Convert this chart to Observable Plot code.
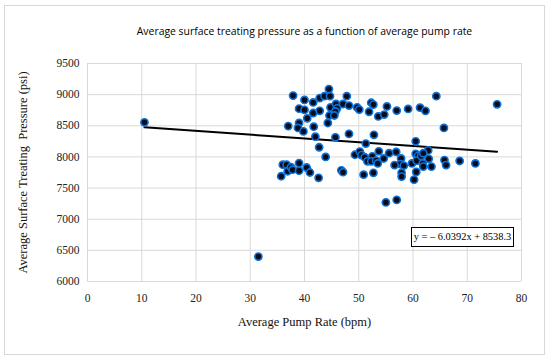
<!DOCTYPE html>
<html>
<head>
<meta charset="utf-8">
<script src="https://cdn.jsdelivr.net/npm/d3@7"></script>
<script src="https://cdn.jsdelivr.net/npm/@observablehq/plot@0.6"></script>
<style>
  html, body { margin: 0; padding: 0; background: #fff; }
  #wrap { position: relative; width: 550px; height: 360px; }
  #wrap > svg { font-family: "Liberation Serif", "DejaVu Serif", serif !important; }
  #wrap svg g[aria-label="x-axis tick label"], #wrap svg g[aria-label="y-axis tick label"],
  #wrap svg g[aria-label="x-axis tick label"] text, #wrap svg g[aria-label="y-axis tick label"] text {
    font-family: "Liberation Serif", "DejaVu Serif", serif !important; font-size: 11.5px; fill: #222;
  }
  #frame { position: absolute; left: 4px; top: 5px; width: 541px; height: 350px; border: 1px solid #d9d9d9; box-sizing: border-box; pointer-events: none; }
  #eq { position: absolute; left: 411px; top: 227px; width: 103px; height: 20px; border: 1px solid #000; background: #fff; box-sizing: border-box;
        font: 10.4px "Liberation Serif", "DejaVu Serif", serif; color: #000; text-align: center; line-height: 18px; white-space: nowrap; }
</style>
</head>
<body>
<div id="wrap"><div id="frame"></div></div>
<script>
const title = "Average surface treating pressure as a function of average pump rate";
const xLabel = "Average Pump Rate (bpm)";
const yLabel = "Average Surface Treating  Pressure (psi)";
const xTicks = [0, 10, 20, 30, 40, 50, 60, 70, 80];
const yTicks = [6000, 6500, 7000, 7500, 8000, 8500, 9000, 9500];
const slope = -6.0392;
const intercept = 8538.3;
const equation = "y = \u2013 6.0392x + 8538.3";

const pumpRate = [
  10.5, 31.5,
  37.9, 40.0, 41.6, 42.8, 43.7, 44.5, 44.7, 47.8, 39.0, 40.0, 41.6, 42.8, 40.5, 44.8, 45.8, 47.1, 46.0, 45.7,
  44.6, 44.3, 45.5, 48.2, 49.7, 50.1, 52.3, 52.7, 51.9, 53.6, 54.7, 55.2, 57.0, 59.1, 61.3, 62.3, 64.3, 75.5,
  37.0, 39.0, 38.8, 39.8, 41.7, 42.0, 45.7, 48.2, 52.8, 51.3, 42.7, 43.9, 60.5, 65.7, 62.8,
  35.7, 36.0, 36.7, 36.9, 37.5, 37.8, 39.0, 39.0, 40.4, 41.0, 42.6, 46.8, 47.1,
  49.3, 50.2, 50.5, 51.1, 51.6, 52.5, 52.3, 53.2, 53.7, 53.5, 54.6, 55.6, 56.9, 57.8, 57.7, 56.6, 58.3,
  50.9, 52.7, 57.9, 57.9, 60.2, 60.6, 59.8, 60.5, 60.9, 60.7, 61.5, 61.9, 61.8, 61.9, 62.9, 63.4,
  65.8, 66.1, 68.6, 71.5, 55.0, 57.0
];
const pressure = [
  8555, 6400,
  8985, 8915, 8875, 8945, 8975, 9090, 8975, 8975, 8775, 8755, 8705, 8740, 8620, 8795, 8850, 8850, 8780, 8730,
  8665, 8545, 8665, 8825, 8795, 8760, 8870, 8840, 8725, 8650, 8680, 8810, 8745, 8770, 8790, 8740, 8975, 8845,
  8495, 8545, 8465, 8410, 8485, 8325, 8315, 8370, 8355, 8215, 8155, 8000, 8250, 8465, 8105,
  7690, 7875, 7875, 7770, 7835, 7795, 7900, 7780, 7830, 7750, 7665, 7785, 7755,
  8035, 8085, 8030, 7995, 7930, 8010, 7930, 7940, 8090, 7895, 7975, 8060, 8080, 7975, 7885, 7870, 7860,
  7715, 7745, 7745, 7685, 7635, 7760, 7895, 8050, 8015, 7940, 8015, 8060, 7895, 7845, 7970, 7845,
  7950, 7870, 7935, 7895, 7270, 7310
];

const points = pumpRate.map((x, i) => ({x, y: pressure[i]}));
const xMin = d3.min(pumpRate), xMax = d3.max(pumpRate);
const trend = [xMin, xMax].map(x => ({x, y: slope * x + intercept}));

const serif = '"Liberation Serif", "DejaVu Serif", serif';

const chart = Plot.plot({
  width: 550,
  height: 360,
  marginLeft: 87,
  marginRight: 29,
  marginTop: 63,
  marginBottom: 79,
  style: {fontSize: "11.5px", color: "#222", background: "transparent", overflow: "visible"},
  x: {domain: [0, 80]},
  y: {domain: [6000, 9500]},
  marks: [
    Plot.gridX(xTicks, {stroke: "#d9d9d9", strokeOpacity: 1, strokeWidth: 1}),
    Plot.gridY(yTicks, {stroke: "#d9d9d9", strokeOpacity: 1, strokeWidth: 1}),
    Plot.axisX({ticks: xTicks, tickSize: 0, tickPadding: 12, label: null, tickFormat: d => String(d), fontFamily: serif, fontSize: 11.5}),
    Plot.axisY({ticks: yTicks, tickSize: 0, tickPadding: 8, label: null, tickFormat: d => String(d), fontFamily: serif, fontSize: 11.5}),
    Plot.line(trend, {x: "x", y: "y", stroke: "#000", strokeWidth: 2}),
    Plot.dot(points, {x: "x", y: "y", r: 3.6, fill: "#0b0b1a", stroke: "#0b72d9", strokeWidth: 1.6}),
    Plot.text([title], {frameAnchor: "top", dy: -36, fontFamily: '"Open Sans", "Noto Sans", sans-serif', fontSize: 10.4, fill: "#000"}),
    Plot.text([xLabel], {frameAnchor: "bottom", dy: 44, fontFamily: serif, fontSize: 12.5, fill: "#111"}),
    Plot.text([yLabel], {frameAnchor: "left", textAnchor: "middle", dx: -65, rotate: -90, fontFamily: serif, fontSize: 12.5, fill: "#111"})
  ]
});

document.getElementById("wrap").insertBefore(chart, document.getElementById("frame"));
const eq = document.createElement("div");
eq.id = "eq";
eq.textContent = equation;
document.getElementById("wrap").appendChild(eq);
</script>
</body>
</html>
